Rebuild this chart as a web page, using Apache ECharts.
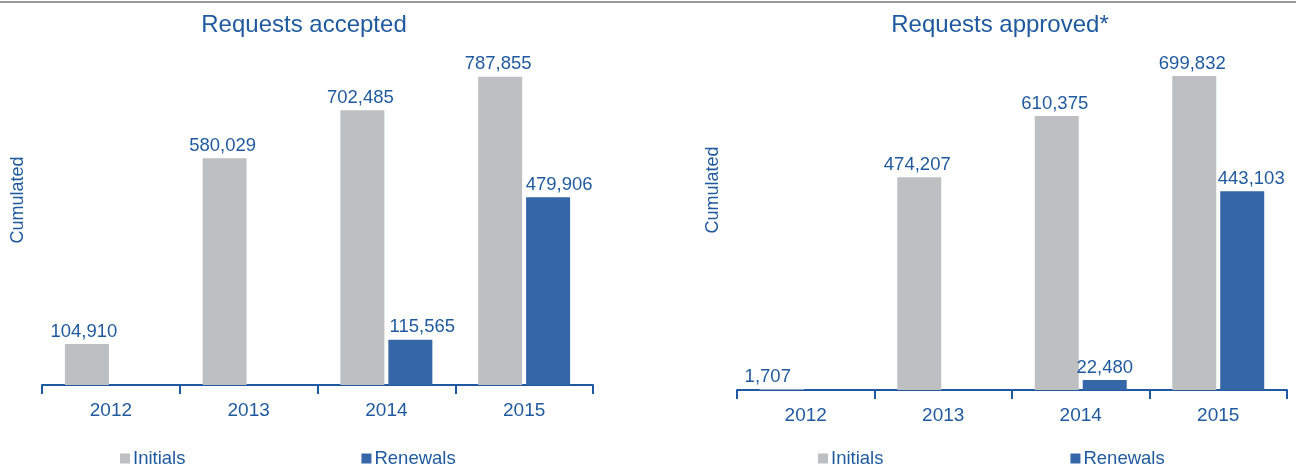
<!DOCTYPE html>
<html>
<head>
<meta charset="utf-8">
<script src="https://cdn.jsdelivr.net/npm/echarts@6/dist/echarts.min.js"></script>
<style>
  html, body { margin: 0; padding: 0; background: #fff; }
  #chart { width: 1296px; height: 470px; }
</style>
</head>
<body>
<div id="chart"></div>
<script>
const years = ["2012", "2013", "2014", "2015"];
const acceptedInitials = [104910, 580029, 702485, 787855];
const acceptedRenewals = [null, null, 115565, 479906];
const approvedInitials = [1707, 474207, 610375, 699832];
const approvedRenewals = [null, null, 22480, 443103];

const blueText = "#1f5a9e";
const grayBar = "#bebfc1";
const blueBar = "#3566a8";
const font = "Liberation Sans, Arial, sans-serif";

// small horizontal nudges of the value labels, as in the original
const shifts = {
    accInit: [-3, -2, -2, -2],
    accRen: [0, 0, 12, 11],
    appInit: [-14, -2, -2, -2],
    appRen: [0, 0, 0, 9]
};

var chart = echarts.init(document.getElementById('chart'));

function xAxisFor(grid) {
    return {
        type: "category",
        gridIndex: grid,
        data: years,
        axisLine: { show: true, lineStyle: { color: "#1f5aa0", width: 2 } },
        axisTick: { show: true, length: 9, lineStyle: { color: "#1f5aa0", width: 2 } },
        axisLabel: { color: blueText, fontSize: 19, fontFamily: font, margin: 16 }
    };
}

function yAxisFor(grid, max) {
    return {
        type: "value",
        gridIndex: grid,
        min: 0,
        max: max,
        axisLine: { show: false },
        axisTick: { show: false },
        axisLabel: { show: false },
        splitLine: { show: false }
    };
}

function barSeries(name, values, shift, color, idx) {
    return {
        name: name,
        type: "bar",
        data: values.map((v, i) => ({ value: v, label: { offset: [shift[i], 0] } })),
        xAxisIndex: idx,
        yAxisIndex: idx,
        barWidth: 44,
        barGap: "9%",
        itemStyle: { color: color },
        label: {
            show: true,
            position: "top",
            distance: 3,
            color: blueText,
            fontSize: 18.5,
            fontFamily: font,
            formatter: p => p.value == null ? "" : p.value.toLocaleString("en-US")
        }
    };
}

const legendText = { color: blueText, fontSize: 18.5, fontFamily: font, padding: [0, 0, 0, -2] };

chart.setOption({
    animation: false,
    textStyle: { fontFamily: font },
    title: [
        { text: "Requests accepted", left: 299, top: 8, textAlign: "center",
          textStyle: { color: blueText, fontSize: 24, fontWeight: "normal", fontFamily: font } },
        { text: "Requests approved*", left: 995, top: 8, textAlign: "center",
          textStyle: { color: blueText, fontSize: 24, fontWeight: "normal", fontFamily: font } }
    ],
    legend: [
        { left: 115, top: 444, itemWidth: 10, itemHeight: 10, itemGap: 176,
          icon: "rect", textStyle: legendText, data: ["Initials", "Renewals"] },
        { left: 813, top: 444, itemWidth: 10, itemHeight: 10, itemGap: 187,
          icon: "rect", textStyle: legendText, data: ["Initials", "Renewals"] }
    ],
    grid: [
        { left: 42, width: 551, top: 33, bottom: 85 },
        { left: 737, width: 550, top: 31, bottom: 80 }
    ],
    xAxis: [xAxisFor(0), xAxisFor(1)],
    yAxis: [yAxisFor(0, 900000), yAxisFor(1, 800000)],
    series: [
        barSeries("Initials", acceptedInitials, shifts.accInit, grayBar, 0),
        barSeries("Renewals", acceptedRenewals, shifts.accRen, blueBar, 0),
        barSeries("Initials", approvedInitials, shifts.appInit, grayBar, 1),
        barSeries("Renewals", approvedRenewals, shifts.appRen, blueBar, 1)
    ],
    graphic: [
        { type: "rect", left: 0, top: 1, shape: { width: 1296, height: 2 }, style: { fill: "#9a9a9a" } },
        { type: "text", x: 18, y: 200, rotation: Math.PI / 2,
          style: { text: "Cumulated", fill: blueText, fontSize: 18, fontFamily: font, align: "center", verticalAlign: "middle" } },
        { type: "text", x: 713, y: 190, rotation: Math.PI / 2,
          style: { text: "Cumulated", fill: blueText, fontSize: 18, fontFamily: font, align: "center", verticalAlign: "middle" } }
    ]
});

window.addEventListener("resize", () => chart.resize());
</script>
</body>
</html>
